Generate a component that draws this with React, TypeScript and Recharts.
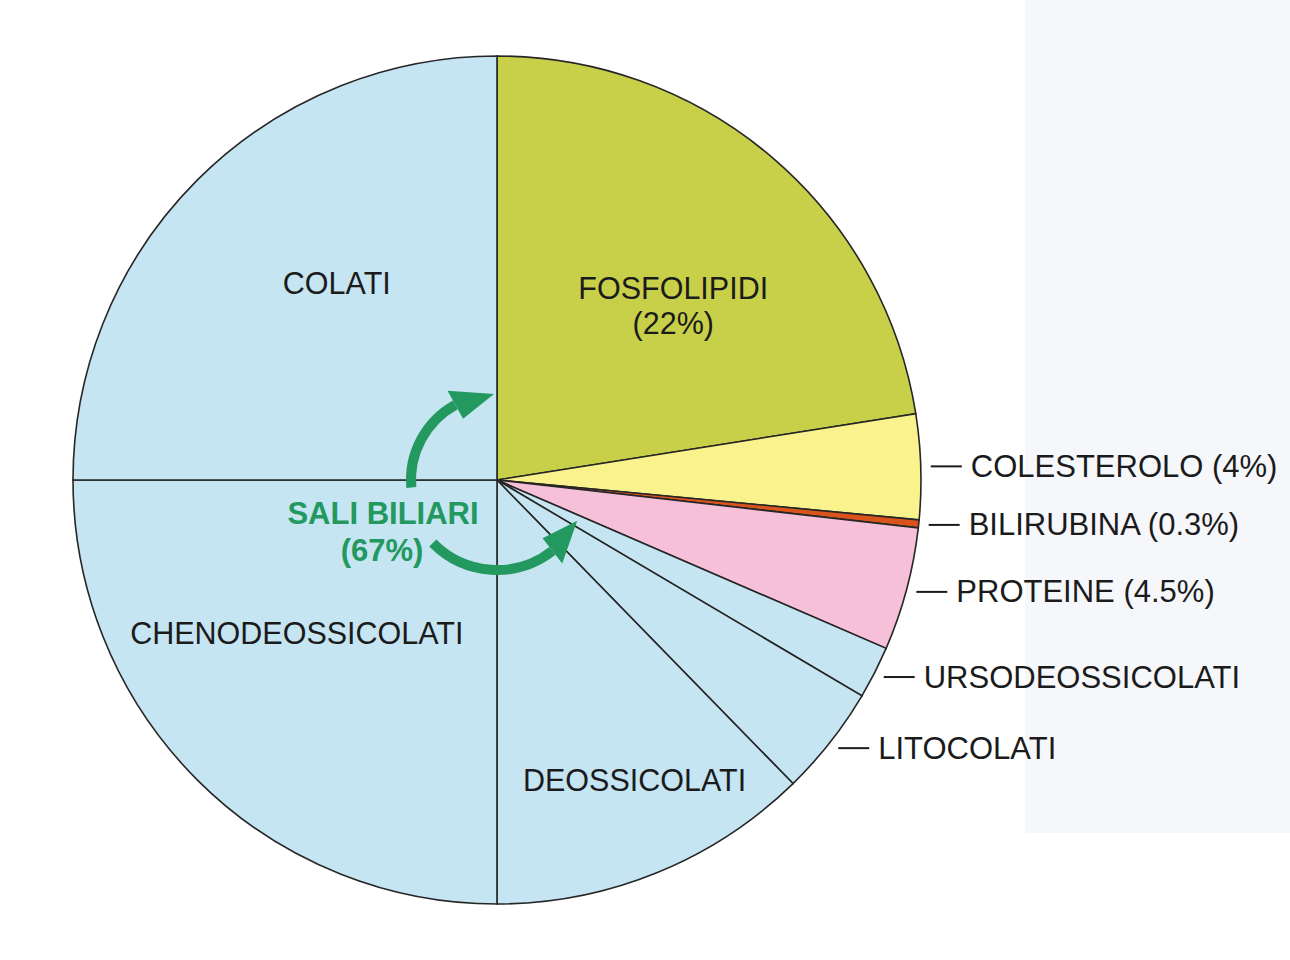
import React from 'react';
import { PieChart, Pie, Cell } from 'recharts';

// composition of bile, clockwise from 12 o'clock
const components = ['FOSFOLIPIDI', 'COLESTEROLO', 'BILIRUBINA', 'PROTEINE', 'URSODEOSSICOLATI', 'LITOCOLATI', 'DEOSSICOLATI', 'CHENODEOSSICOLATI', 'COLATI'];
const shares = [22.5, 4, 0.3, 4.7, 2, 4.2, 12.3, 25, 25];
const printedLabels = ['FOSFOLIPIDI|(22%)', 'COLESTEROLO (4%)', 'BILIRUBINA (0.3%)', 'PROTEINE (4.5%)', 'URSODEOSSICOLATI', 'LITOCOLATI', 'DEOSSICOLATI', 'CHENODEOSSICOLATI', 'COLATI'];

const data = components.map((name, i) => ({ name, value: shares[i], label: printedLabels[i] }));

const W = 1290;
const H = 960;
const CX = 497;
const CY = 480;
const R = 424;

const colors: Record<string, string> = {
  FOSFOLIPIDI: '#c8d04a',
  COLESTEROLO: '#faf28c',
  BILIRUBINA: '#d9541c',
  PROTEINE: '#f6c0d8',
  URSODEOSSICOLATI: '#c6e5f2',
  LITOCOLATI: '#c6e5f2',
  DEOSSICOLATI: '#c6e5f2',
  CHENODEOSSICOLATI: '#c6e5f2',
  COLATI: '#c6e5f2',
};

// inside labels: radius and angle nudge from the slice middle
const insideLayout: Record<string, { r: number; da: number }> = {
  FOSFOLIPIDI: { r: 248, da: -4.8 },
  DEOSSICOLATI: { r: 330, da: 2.5 },
  CHENODEOSSICOLATI: { r: 252, da: -7.6 },
  COLATI: { r: 254, da: -5.9 },
};

const RAD = Math.PI / 180;
const FONT = '"Liberation Sans", Arial, Helvetica, sans-serif';
const GREEN = '#23985f';

const renderLabel = (props: any) => {
  const { cx, cy, midAngle, outerRadius, payload, index } = props;
  const name = payload?.name ?? components[index];
  const text: string = payload?.label ?? printedLabels[index];
  const inside = insideLayout[name];
  if (inside) {
    const a = (midAngle + inside.da) * RAD;
    const x = cx + inside.r * Math.cos(a);
    const y = cy - inside.r * Math.sin(a);
    const lines = text.split('|');
    const lh = 35;
    const y0 = y - ((lines.length - 1) * lh) / 2;
    return (
      <text key={name} x={x} textAnchor="middle" fontFamily={FONT} fontSize={30.5} fill="#1b1b1b">
        {lines.map((l, i) => (
          <tspan key={i} x={x} y={y0 + i * lh} dominantBaseline="central">{l}</tspan>
        ))}
      </text>
    );
  }
  const a = midAngle * RAD;
  const x = cx + (outerRadius + 10) * Math.cos(a);
  const y = cy - (outerRadius + 10) * Math.sin(a);
  return (
    <g key={name}>
      <line x1={x} y1={y} x2={x + 31} y2={y} stroke="#1b1b1b" strokeWidth={2} />
      <text x={x + 40} y={y} dominantBaseline="central" fontFamily={FONT} fontSize={31} fill="#1b1b1b">{text}</text>
    </g>
  );
};

const pt = (r: number, deg: number) => [CX + r * Math.cos(deg * RAD), CY - r * Math.sin(deg * RAD)];

// curved arrow around the pie centre
const Arrow = ({ r, from, base, tip, half, sweep }: { r: number; from: number; base: number; tip: number; half: number; sweep: 0 | 1 }) => {
  const [x1, y1] = pt(r, from);
  const [x2, y2] = pt(r, base);
  const [bx1, by1] = pt(r - half, base);
  const [bx2, by2] = pt(r + half, base);
  const [tx, ty] = pt(r, tip);
  return (
    <g>
      <path d={`M${x1},${y1} A${r},${r} 0 0 ${sweep} ${x2},${y2}`} fill="none" stroke={GREEN} strokeWidth={10} />
      <path d={`M${bx1},${by1} L${tx},${ty} L${bx2},${by2} Z`} fill={GREEN} />
    </g>
  );
};

export default function App() {
  return (
    <div style={{ position: 'absolute', left: 0, top: 0, width: W, height: H, background: '#ffffff', overflow: 'hidden' }}>
      <div style={{ position: 'absolute', left: 1025, top: 0, width: W - 1025, height: 833, background: '#f6f7fb' }} />
      <div style={{ position: 'absolute', left: 0, top: 0 }}>
        <PieChart width={W} height={H} margin={{ top: 0, right: 0, bottom: 0, left: 0 }}>
          <Pie
            data={data}
            dataKey="value"
            nameKey="name"
            cx={CX}
            cy={CY}
            outerRadius={R}
            startAngle={90}
            endAngle={-270}
            stroke="#262626"
            strokeWidth={1.6}
            label={renderLabel}
            labelLine={false}
            isAnimationActive={false}
          >
            {data.map((d) => (
              <Cell key={d.name} fill={colors[d.name]} />
            ))}
          </Pie>
        </PieChart>
      </div>
      <svg width={W} height={H} style={{ position: 'absolute', left: 0, top: 0, pointerEvents: 'none' }}>
        <Arrow r={86} from={185} base={119} tip={92} half={16} sweep={1} />
        <Arrow r={90} from={-135.5} base={-52} tip={-27} half={16} sweep={0} />
        <text x={383} y={513} textAnchor="middle" dominantBaseline="central" fontFamily={FONT} fontWeight="bold" fontSize={31} fill={GREEN}>SALI BILIARI</text>
        <text x={382} y={550} textAnchor="middle" dominantBaseline="central" fontFamily={FONT} fontWeight="bold" fontSize={31} fill={GREEN}>(67%)</text>
      </svg>
    </div>
  );
}
